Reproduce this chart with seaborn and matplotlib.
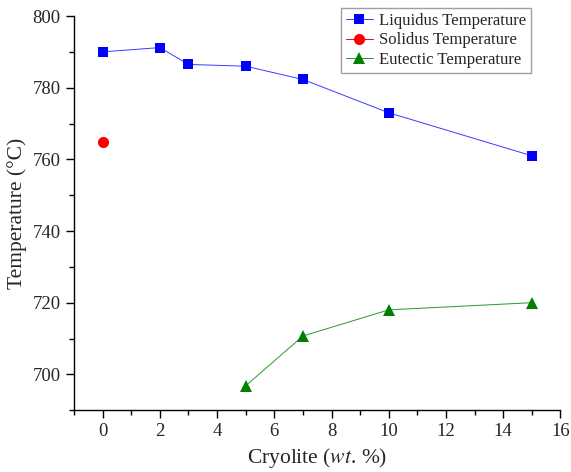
import numpy as np
import pandas as pd
import seaborn as sns
import matplotlib.pyplot as plt
from matplotlib.ticker import MultipleLocator

# data
liq_x = [0, 2, 3, 5, 7, 10, 15]
liq_y = [790.0, 791.2, 786.5, 786.0, 782.3, 773.0, 761.0]
sol_x = [0]
sol_y = [764.8]
eut_x = [5, 7, 10, 15]
eut_y = [696.8, 710.7, 718.0, 720.0]

sns.set_style("ticks")
plt.rcParams['font.family'] = ['Liberation Serif', 'DejaVu Serif']
plt.rcParams['mathtext.fontset'] = 'stix'

fig = plt.figure(figsize=(5.71, 4.72), dpi=100)
ax = fig.add_axes([0.1296, 0.131, 0.852, 0.835])

liq = pd.DataFrame({'x': liq_x, 'y': liq_y})
sol = pd.DataFrame({'x': sol_x, 'y': sol_y})
eut = pd.DataFrame({'x': eut_x, 'y': eut_y})

sns.lineplot(data=liq, x='x', y='y', ax=ax, color='#3a3aff', lw=0.7, marker='s',
             markersize=7, markeredgewidth=0, markerfacecolor='#0000ff',
             label='Liquidus Temperature')
sns.lineplot(data=sol, x='x', y='y', ax=ax, color='#ff0000', lw=0.7, marker='o',
             markersize=8, markeredgewidth=0, label='Solidus Temperature')
sns.lineplot(data=eut, x='x', y='y', ax=ax, color='#2a9a2a', lw=0.7, marker='^',
             markersize=8, markeredgewidth=0, markerfacecolor='#008000',
             label='Eutectic Temperature')

ax.set_xlim(-1, 16)
ax.set_ylim(690, 800)
ax.xaxis.set_major_locator(MultipleLocator(2))
ax.xaxis.set_minor_locator(MultipleLocator(1))
ax.yaxis.set_major_locator(MultipleLocator(20))
ax.yaxis.set_minor_locator(MultipleLocator(10))
ax.tick_params(which='major', direction='out', length=6, width=1, labelsize=13.5, color='black')
ax.tick_params(which='minor', direction='out', length=3.5, width=1, color='black')
for s in ['top', 'right']:
    ax.spines[s].set_visible(False)
for s in ['left', 'bottom']:
    ax.spines[s].set_color('black')
    ax.spines[s].set_linewidth(1)

ax.set_xlabel('Cryolite ($\\it{wt}$. %)', fontsize=15.5)
ax.set_ylabel('Temperature (\u00b0C)', fontsize=15.5)

leg = ax.legend(loc='upper right', bbox_to_anchor=(0.94, 1.02), fontsize=12, frameon=True,
                fancybox=False, edgecolor='#a0a0a0', framealpha=1, handlelength=1.6,
                borderpad=0.3, labelspacing=0.2, handletextpad=0.4, borderaxespad=0)
leg.get_frame().set_linewidth(1)

fig.savefig('out.png', dpi=100)
